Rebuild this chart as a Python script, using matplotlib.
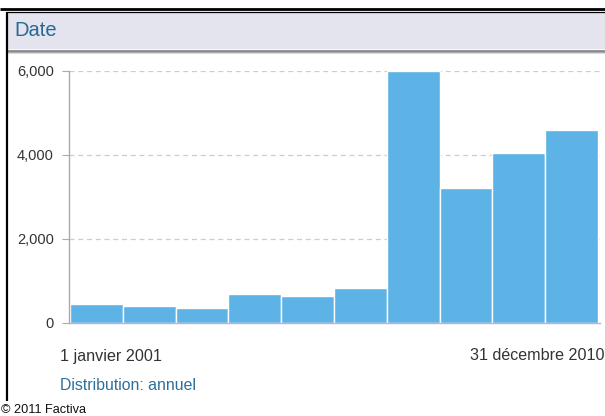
import matplotlib
matplotlib.use('Agg')
import matplotlib.pyplot as plt
from matplotlib.patches import Rectangle
from matplotlib.ticker import FuncFormatter

plt.rcParams['font.family'] = ['Liberation Sans', 'DejaVu Sans']

# yearly article counts
years = [2001, 2002, 2003, 2004, 2005, 2006, 2007, 2008, 2009, 2010]
counts = [445, 405, 365, 683, 643, 833, 5990, 3221, 4040, 4588]
y_ticks = [0, 2000, 4000, 6000]

W, H = 605, 416
fig = plt.figure(figsize=(W / 100, H / 100), dpi=100)

# background layer in pixel coordinates (frame + header band)
bg = fig.add_axes([0, 0, 1, 1], zorder=0)
bg.set_xlim(0, W)
bg.set_ylim(H, 0)
bg.axis('off')
bg.add_patch(Rectangle((7, 13), W - 7, 36, color='#e3e4ee', lw=0))
for y, c in [(49.5, '#9a9a9a'), (50.5, '#888888'), (51.5, '#a8a8a8'), (52.5, '#dddddd')]:
    bg.plot([7, W], [y, y], color=c, lw=0.8, solid_capstyle='butt')
bg.plot([0, W], [9, 9], color='black', lw=2.0, solid_capstyle='butt')
bg.plot([6, W], [12.3, 12.3], color='black', lw=0.9, solid_capstyle='butt')
bg.plot([7, 7], [12, 401], color='black', lw=1.6, solid_capstyle='butt')

bg.text(14, 31, 'Date', color='#2a6896', fontsize=14.5, va='center', ha='left')
bg.text(60, 356, '1 janvier 2001', color='#333333', fontsize=11.6, va='center', ha='left')
bg.text(470, 356, '31 décembre 2010', color='#333333', fontsize=11.6, va='center', ha='left')
bg.text(60, 385, 'Distribution: annuel', color='#2e6e9c', fontsize=11.4, va='center', ha='left')
bg.text(1, 410, '© 2011 Factiva', color='#111111', fontsize=9.2, va='center', ha='left')

# main chart
left, right, top, bottom = 69, 600, 71, 323
ax = fig.add_axes([left / W, (H - bottom) / H, (right - left) / W, (bottom - top) / H], zorder=1)
ax.patch.set_alpha(0)

x = list(range(len(years)))
ax.bar(x, counts, width=1.0, color='#5db3e6', edgecolor='white', linewidth=1.0, zorder=2)

px = 52.8
ax.set_xlim(-0.5 - 1 / px, 9.5 + 2 / px)
ax.set_ylim(0, 6000)
ax.set_yticks(y_ticks)
ax.yaxis.set_major_formatter(FuncFormatter(lambda v, p: f'{int(v):,}'))
ax.set_xticks([])

for v in y_ticks[1:]:
    ax.axhline(v, color='#cccccc', lw=0.9, ls=(0, (4, 3)), zorder=1)

for s in ['top', 'right']:
    ax.spines[s].set_visible(False)
ax.spines['left'].set_color('#aaaaaa')
ax.spines['left'].set_linewidth(1.0)
ax.spines['bottom'].set_color('#b9b0d6')
ax.spines['bottom'].set_linewidth(1.0)
ax.tick_params(axis='y', length=5, color='#aaaaaa', labelsize=10.5, labelcolor='#333333', pad=6)

fig.savefig('out.png', dpi=100)
